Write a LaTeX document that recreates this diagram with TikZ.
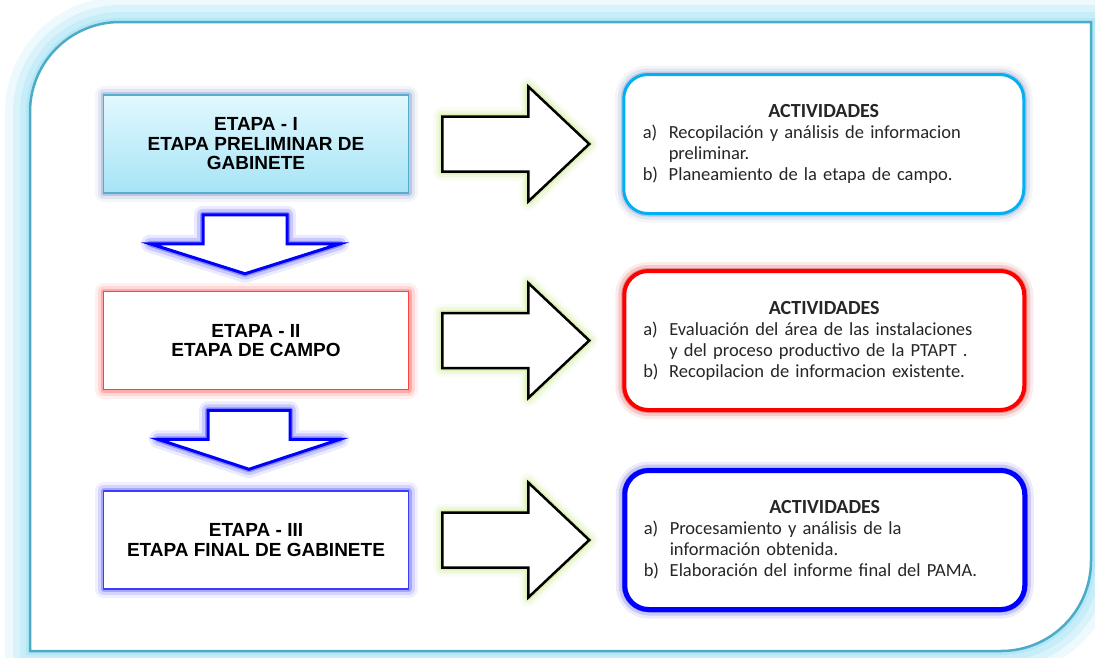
\documentclass[tikz,border=0pt]{standalone}
\usepackage{fontspec}
\setmainfont{Carlito}
\newfontfamily\etapafont{Liberation Sans}
\usetikzlibrary{positioning}

\definecolor{frameteal}{RGB}{75,172,198}
\definecolor{frameglow}{RGB}{140,218,242}
\definecolor{skytop}{RGB}{226,248,254}
\definecolor{skybottom}{RGB}{166,228,246}
\definecolor{skyline}{RGB}{88,172,204}
\definecolor{greyblue}{RGB}{110,132,196}
\definecolor{softred}{RGB}{255,64,64}
\definecolor{softblue}{RGB}{60,60,255}
\definecolor{actcyan}{RGB}{0,176,240}
\definecolor{actred}{RGB}{255,0,0}
\definecolor{actblue}{RGB}{0,0,255}
\definecolor{limeglow}{RGB}{180,226,100}

% item label with hanging indent, and the heading of each list
\newcommand{\actitem}[1]{\makebox[26pt][l]{#1}}
\newcommand{\acthead}{\makebox[362pt]{\fontsize{20}{21}\selectfont\textbf{ACTIVIDADES}}}

\begin{document}
\begin{tikzpicture}[x=1pt, y=-1pt,
	glow/.style={
		preaction={draw=#1, line join=round, line width=18pt, opacity=.08},
		preaction={draw=#1, line join=round, line width=12pt, opacity=.14},
		preaction={draw=#1, line join=round, line width=6pt, opacity=.3}},
	etapa/.style={rectangle, minimum width=305pt, minimum height=98pt, line width=1.5pt, align=center, font=\etapafont\bfseries\fontsize{19}{19.5}\selectfont},
	actividad/.style={rectangle, rounded corners=24pt, fill=white, minimum width=400pt, minimum height=139pt, text width=362pt, inner xsep=19pt, align=left, text=black!85, font=\fontsize{18.5}{21}\selectfont},
	rarrow/.style={draw=black, line width=2.5pt, fill=white, line join=miter, glow=limeglow},
	darrow/.style={draw=actblue, line width=3pt, fill=white, line join=miter, glow=actblue}
	]
	\useasboundingbox (0,0) rectangle (1095,657);

	% outer frame
	\draw[frameteal, line width=2.5pt, fill=white,
		preaction={draw=frameglow, line width=50pt, opacity=.15},
		preaction={draw=frameglow, line width=34pt, opacity=.2},
		preaction={draw=frameglow, line width=20pt, opacity=.25},
		preaction={draw=frameglow, line width=8pt, opacity=.3}]
		(30,651) -- (30,112) arc[start angle=180, end angle=270, radius=90] -- (1091,22) -- (1091,561) arc[start angle=0, end angle=90, radius=90] -- cycle;

	% stages
	\node (etapaI) [etapa, draw=skyline, top color=skytop, bottom color=skybottom, glow=greyblue] at (256,144) {ETAPA - I\\ETAPA PRELIMINAR DE\\GABINETE};
	\node (etapaII) [etapa, draw=softred, fill=white, glow=softred, below=97pt of etapaI] {ETAPA - II\\ETAPA DE CAMPO};
	\node (etapaIII) [etapa, draw=softblue, fill=white, glow=softblue, below=100pt of etapaII] {ETAPA - III\\ETAPA FINAL DE GABINETE};

	% activities
	\node (actI) [actividad, draw=actcyan, line width=3pt, glow=greyblue, right=213pt of etapaI] {\acthead\\
		\actitem{a)}Recopilación y análisis de informacion\\
		\hspace*{26pt}preliminar.\\
		\actitem{b)}Planeamiento de la etapa de campo.};
	\node (actII) [actividad, draw=actred, line width=4pt, glow=actred!80!black, right=213pt of etapaII] {\acthead\\
		\actitem{a)}Evaluación del área de las instalaciones\\
		\hspace*{26pt}y del proceso productivo de la PTAPT .\\
		\actitem{b)}Recopilacion de informacion existente.};
	\node (actIII) [actividad, draw=actblue, line width=5pt, glow=actblue!80!black, right=213pt of etapaIII] {\acthead\\
		\actitem{a)}Procesamiento y análisis de la\\
		\hspace*{26pt}información obtenida.\\
		\actitem{b)}Elaboración del informe final del PAMA.};

	% block arrows stage -> activities
	\draw[rarrow] ([xshift=33pt]etapaI.east) ++(0,-27.5) -- ++(86,0) -- ++(0,-30) -- ++(61,57.5) -- ++(-61,57.5) -- ++(0,-30) -- ++(-86,0) -- cycle;
	\draw[rarrow] ([xshift=33pt]etapaII.east) ++(0,-27.5) -- ++(86,0) -- ++(0,-30) -- ++(61,57.5) -- ++(-61,57.5) -- ++(0,-30) -- ++(-86,0) -- cycle;
	\draw[rarrow] ([xshift=33pt]etapaIII.east) ++(0,-27.5) -- ++(86,0) -- ++(0,-30) -- ++(61,57.5) -- ++(-61,57.5) -- ++(0,-30) -- ++(-86,0) -- cycle;

	% block arrows stage -> next stage
	\draw[darrow] ([xshift=-11pt, yshift=-21pt]etapaI.south) ++(-42,0) -- ++(0,29) -- ++(-53,0) -- ++(95,30) -- ++(95,-30) -- ++(-53,0) -- ++(0,-29) -- cycle;
	\draw[darrow] ([xshift=-7pt, yshift=-20pt]etapaII.south) ++(-41,0) -- ++(0,29) -- ++(-50,0) -- ++(91,30) -- ++(91,-30) -- ++(-50,0) -- ++(0,-29) -- cycle;

\end{tikzpicture}
\end{document}
